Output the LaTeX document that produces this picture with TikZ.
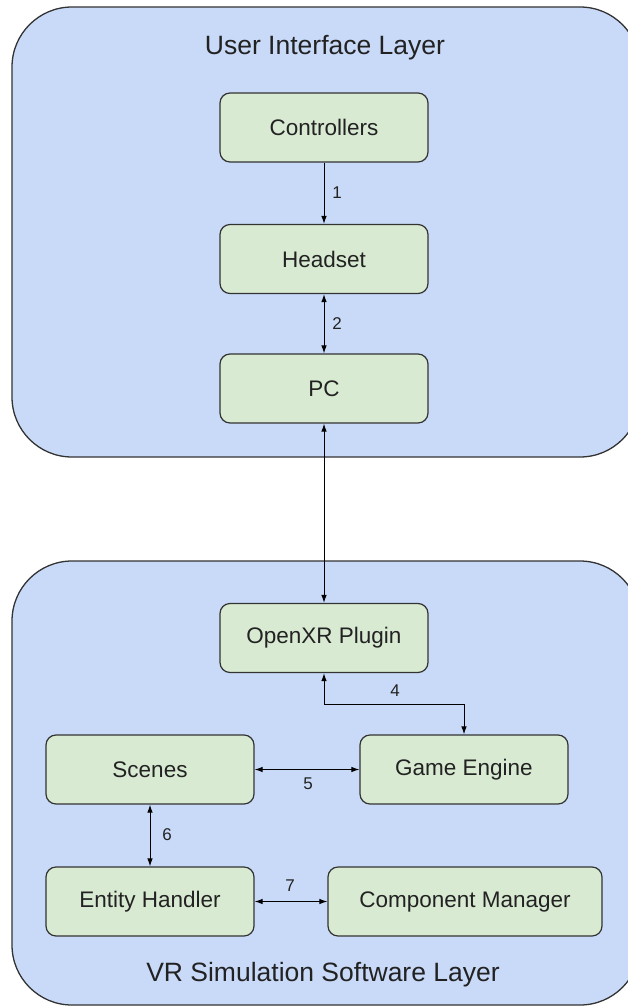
\documentclass[tikz,border=0pt]{standalone}
\usepackage{fontspec}
\setmainfont{Liberation Sans}
\usetikzlibrary{arrows.meta}
\definecolor{layerfill}{HTML}{C9DAF8}
\definecolor{boxfill}{HTML}{D9EAD3}
\definecolor{edgegray}{HTML}{333333}
\definecolor{inkgray}{HTML}{222222}
\tikzset{
  layer/.style={draw=edgegray, fill=layerfill, line width=1.3pt, rounded corners=60pt},
  compbox/.style={draw=edgegray, fill=boxfill, line width=1.2pt, rounded corners=10pt,
    minimum width=208pt, minimum height=69pt, inner sep=0pt,
    font=\fontsize{22.5}{26}\selectfont, text=inkgray},
  layertitle/.style={font=\fontsize{26.5}{31}\selectfont, text=inkgray},
  num/.style={font=\fontsize{17}{20}\selectfont, text=inkgray},
  link/.style={draw=black, line width=1pt},
  tip/.tip={Latex[length=8pt,width=5.5pt]},
}
\begin{document}
\begin{tikzpicture}[x=1pt,y=-1pt]
  \useasboundingbox (0,0) rectangle (628,1008);
  \clip (0,0) rectangle (628,1008);

  % layer containers
  \path[layer] (12,7) rectangle (640,457);
  \path[layer] (12,561) rectangle (640,1005);
  \node[layertitle] (uititle) at (325,48) {User Interface Layer};
  \node[layertitle] (vrtitle) at (323,975) {VR Simulation Software Layer};

  % user interface components
  \node[compbox] (ctrl) at (324,127.5) {Controllers};
  \node[compbox] (head) at (324,259) {Headset};
  \node[compbox] (pc)   at (324,388.5) {PC};

  % simulation software components
  \node[compbox] (xr) at (324,638) {OpenXR Plugin};
  \node[compbox] (ge) at (464,769.5) {Game Engine};
  \node[compbox] (sc) at (150,769.5) {Scenes};
  \node[compbox] (eh) at (150,901.5) {Entity Handler};
  \node[compbox, minimum width=274pt] (cm) at (465,901.5) {Component Manager};

  % connections
  \draw[link, -tip] (ctrl) -- (head);
  \draw[link, tip-tip] (head) -- (pc);
  \draw[link, tip-tip] (pc) -- (xr);
  \coordinate (bend4) at (324,704);
  \draw[link, tip-tip] (xr.south) -- (bend4) -| (ge.north);
  \draw[link, tip-tip] (sc) -- (ge);
  \draw[link, tip-tip] (sc) -- (eh);
  \draw[link, tip-tip] (eh) -- (cm);

  % connection numbers
  \node[num] (n1) at (337,193) {1};
  \node[num] (n2) at (337,324) {2};
  \node[num] (n4) at (395,691) {4};
  \node[num] (n5) at (308,784) {5};
  \node[num] (n6) at (167,835) {6};
  \node[num] (n7) at (290,886) {7};
\end{tikzpicture}
\end{document}
